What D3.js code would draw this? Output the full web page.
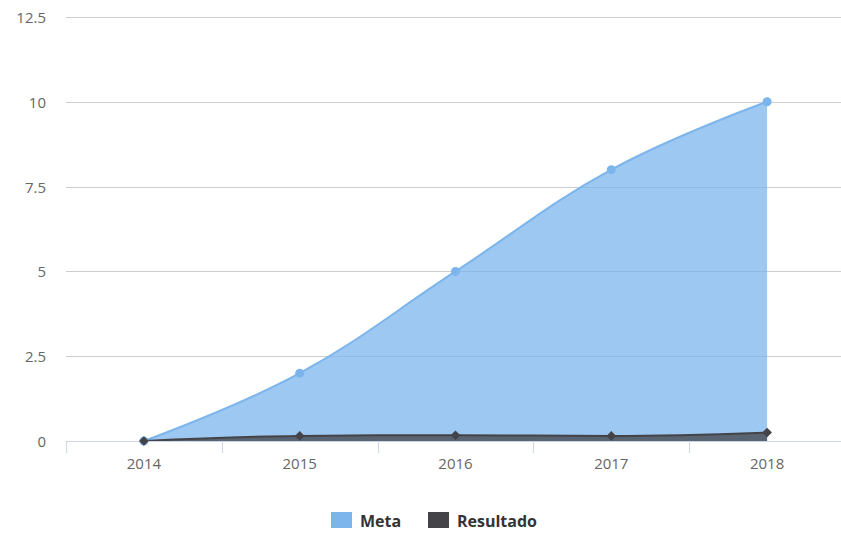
<!DOCTYPE html>
<html><head><meta charset="utf-8">
<script src="https://cdn.jsdelivr.net/npm/d3@7"></script>
<style>body{margin:0;background:#fff}text{font-family:"Open Sans","DejaVu Sans",sans-serif}</style>
</head><body>
<svg id="c" width="841" height="533"></svg>
<script>
const categories = ["2014","2015","2016","2017","2018"];
const metaValues = [0, 2, 5, 8, 10];
const resultadoValues = [0, 0.15, 0.17, 0.15, 0.25];
const yTicks = [0, 2.5, 5, 7.5, 10, 12.5];
const yTickLabels = ["0","2.5","5","7.5","10","12.5"];
const seriesNames = ["Meta","Resultado"];
const colors = ["#7cb5ec","#434348"];

(function(){
const svg = d3.select("#c");
const pLeft = 66, pRight = 845, pTop = 17, pBottom = 441;
const x = d3.scaleBand().domain(categories).range([pLeft, pRight]);
const y = d3.scaleLinear().domain([0, 12.5]).range([pBottom, pTop]);

svg.append("g").selectAll("line").data(yTicks.slice(1)).join("line")
  .attr("x1", pLeft).attr("x2", 841).attr("y1", d => Math.round(y(d))+0.5).attr("y2", d => Math.round(y(d))+0.5)
  .attr("stroke", "#cccccc").attr("stroke-width", 1);

svg.append("g").selectAll("text").data(yTicks).join("text")
  .attr("x", 46).attr("y", d => y(d) + 6).attr("text-anchor", "end")
  .attr("font-size", 15).attr("fill", "#666666")
  .text((d,i) => yTickLabels[i]);

function splinePath(pts) {
  const sm = 1.5, den = sm + 1;
  const cps = pts.map(() => ({}));
  for (let i = 1; i < pts.length - 1; i++) {
    const [px, py] = pts[i], [lx, ly] = pts[i-1], [nx, ny] = pts[i+1];
    let lcx = (sm*px + lx)/den, lcy = (sm*py + ly)/den;
    let rcx = (sm*px + nx)/den, rcy = (sm*py + ny)/den;
    const corr = ((rcy - lcy) * (rcx - px)) / (rcx - lcx) + py - rcy;
    lcy += corr; rcy += corr;
    if (lcy > ly && lcy > py) { lcy = Math.max(ly, py); rcy = 2*py - lcy; }
    else if (lcy < ly && lcy < py) { lcy = Math.min(ly, py); rcy = 2*py - lcy; }
    if (rcy > ny && rcy > py) { rcy = Math.max(ny, py); lcy = 2*py - rcy; }
    else if (rcy < ny && rcy < py) { rcy = Math.min(ny, py); lcy = 2*py - rcy; }
    cps[i] = {lcx, lcy, rcx, rcy};
  }
  let d = `M${pts[0][0]},${pts[0][1]}`;
  for (let i = 1; i < pts.length; i++) {
    const p = cps[i-1], c = cps[i];
    const ax = p.rcx ?? pts[i-1][0], ay = p.rcy ?? pts[i-1][1];
    const bx = c.lcx ?? pts[i][0], by = c.lcy ?? pts[i][1];
    d += `C${ax},${ay},${bx},${by},${pts[i][0]},${pts[i][1]}`;
  }
  return d;
}

const cx = c => x(c) + x.bandwidth()/2;
[metaValues, resultadoValues].forEach((vals, si) => {
  const pts = vals.map((v,i) => [cx(categories[i]), y(v)]);
  const line = splinePath(pts);
  const area = line + `L${pts[pts.length-1][0]},${y(0)}L${pts[0][0]},${y(0)}Z`;
  svg.append("path").attr("d", area).attr("fill", colors[si]).attr("fill-opacity", 0.75);
  svg.append("path").attr("d", line).attr("fill", "none").attr("stroke", colors[si]).attr("stroke-width", 2);
});

svg.append("line").attr("x1", pLeft).attr("x2", 841).attr("y1", pBottom+0.5).attr("y2", pBottom+0.5).attr("stroke", "#ccd6eb");
const tickXs = categories.map(c => x(c)).concat([pRight]);
svg.append("g").selectAll("line").data(tickXs).join("line")
  .attr("x1", d => Math.round(d)+0.5).attr("x2", d => Math.round(d)+0.5)
  .attr("y1", pBottom).attr("y2", pBottom+12).attr("stroke", "#ccd6eb");
svg.append("g").selectAll("text").data(categories).join("text")
  .attr("x", d => cx(d)).attr("y", 469).attr("text-anchor", "middle")
  .attr("font-size", 15).attr("fill", "#666666").text(d => d);

svg.append("g").selectAll("circle").data(metaValues).join("circle")
  .attr("cx", (d,i) => cx(categories[i])).attr("cy", d => y(d)).attr("r", 4.5).attr("fill", colors[0]);
const dia = d3.symbol().type(d3.symbolDiamond2).size(60);
svg.append("g").selectAll("path").data(resultadoValues).join("path")
  .attr("transform", (d,i) => `translate(${cx(categories[i])},${y(d)})`).attr("d", dia).attr("fill", colors[1]);

const legend = [{x:331, name:seriesNames[0], c:colors[0]}, {x:428, name:seriesNames[1], c:colors[1]}];
const lg = svg.append("g").selectAll("g").data(legend).join("g");
lg.append("rect").attr("x", d => d.x).attr("y", 512).attr("width", 21).attr("height", 16).attr("fill", d => d.c);
lg.append("text").attr("x", d => d.x + 29).attr("y", 527).attr("font-size", 16).attr("font-weight", "bold")
  .attr("fill", "#333333").text(d => d.name);
})();
</script>
</body></html>
